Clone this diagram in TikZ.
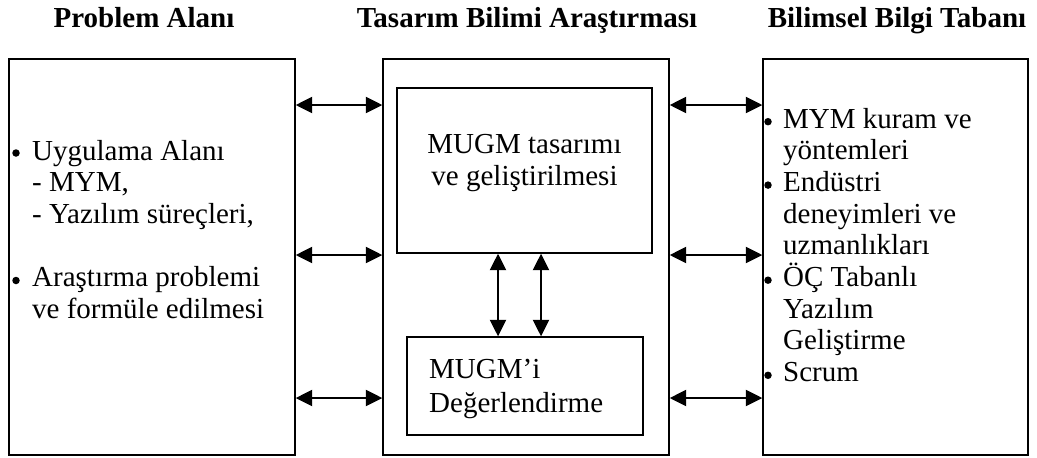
\documentclass[tikz,border=0pt]{standalone}
\usepackage{fontspec}
\setmainfont{Liberation Serif}
\usetikzlibrary{arrows.meta}
\begin{document}
\begin{tikzpicture}[x=1pt,y=-1pt,
  panel/.style={draw, line width=1.4pt, inner sep=0pt},
  title/.style={anchor=base, inner sep=0pt, font=\fontsize{29}{33}\selectfont\bfseries},
  txt/.style={anchor=base west, inner sep=0pt, font=\fontsize{29}{32}\selectfont},
  ctxt/.style={anchor=base, inner sep=0pt, font=\fontsize{29}{32}\selectfont},
  dot/.style={circle, fill, inner sep=0pt, minimum size=7.5pt},
  arr/.style={{Triangle[length=16.5pt,width=16pt]}-{Triangle[length=16.5pt,width=16pt]}, line width=1.9pt}]
\useasboundingbox (0,0) rectangle (1037,458);

% column headings
\node[title] (h1) at (144,27) {Problem Alanı};
\node[title] (h2) at (527,27) {Tasarım Bilimi Araştırması};
\node[title] (h3) at (897,27) {Bilimsel Bilgi Tabanı};

% the three panels
\node[panel, minimum width=286pt, minimum height=396pt] (pa) at (152,257) {};
\node[panel, minimum width=286pt, minimum height=396pt] (tb) at (526,257) {};
\node[panel, minimum width=265pt, minimum height=396pt] (bb) at (895.5,257) {};

% boxes inside the middle panel
\node[panel, minimum width=255pt, minimum height=165pt] (dev) at (524.5,170.5) {};
\node[panel, minimum width=236pt, minimum height=98pt] (ev) at (525,386) {};

% problem domain
\node[dot] (pd1) at (16,153) {};
\node[txt] (p1) at (32,160) {Uygulama Alanı};
\node[txt] (p2) at (32,191.7) {- MYM,};
\node[txt] (p3) at (32,223.4) {- Yazılım süreçleri,};
\node[dot] (pd2) at (16,280.5) {};
\node[txt] (p4) at (32,286.8) {Araştırma problemi};
\node[txt] (p5) at (32,318.5) {ve formüle edilmesi};

% design science research
\node[ctxt] (m1) at (524.5,153) {MUGM tasarımı};
\node[ctxt] (m2) at (524.5,185) {ve geliştirilmesi};
\node[txt] (e1) at (429,378) {MUGM’i};
\node[txt] (e2) at (429,412) {Değerlendirme};

% knowledge base
\node[dot] (kd1) at (768,121.7) {};
\node[txt] (k1) at (783,128) {MYM kuram ve};
\node[txt] (k2) at (783,159.7) {yöntemleri};
\node[dot] (kd2) at (768,185.1) {};
\node[txt] (k3) at (783,191.4) {Endüstri};
\node[txt] (k4) at (783,223.1) {deneyimleri ve};
\node[txt] (k5) at (783,254.8) {uzmanlıkları};
\node[dot] (kd3) at (768,280.2) {};
\node[txt] (k6) at (783,286.5) {ÖÇ Tabanlı};
\node[txt] (k7) at (783,318.2) {Yazılım};
\node[txt] (k8) at (783,349.9) {Geliştirme};
\node[dot] (kd4) at (768,375.3) {};
\node[txt] (k9) at (783,381.6) {Scrum};

% levels of the connectors
\coordinate (y1) at (0,105);
\coordinate (y2) at (0,255);
\coordinate (y3) at (0,398);
\coordinate (v1) at (498,0);
\coordinate (v2) at (541,0);

\draw[arr] (pa.east |- y1) -- (tb.west |- y1);
\draw[arr] (pa.east |- y2) -- (tb.west |- y2);
\draw[arr] (pa.east |- y3) -- (tb.west |- y3);
\draw[arr] (tb.east |- y1) -- (bb.west |- y1);
\draw[arr] (tb.east |- y2) -- (bb.west |- y2);
\draw[arr] (tb.east |- y3) -- (bb.west |- y3);
\draw[arr] (dev.south -| v1) -- (ev.north -| v1);
\draw[arr] (dev.south -| v2) -- (ev.north -| v2);
\end{tikzpicture}
\end{document}
